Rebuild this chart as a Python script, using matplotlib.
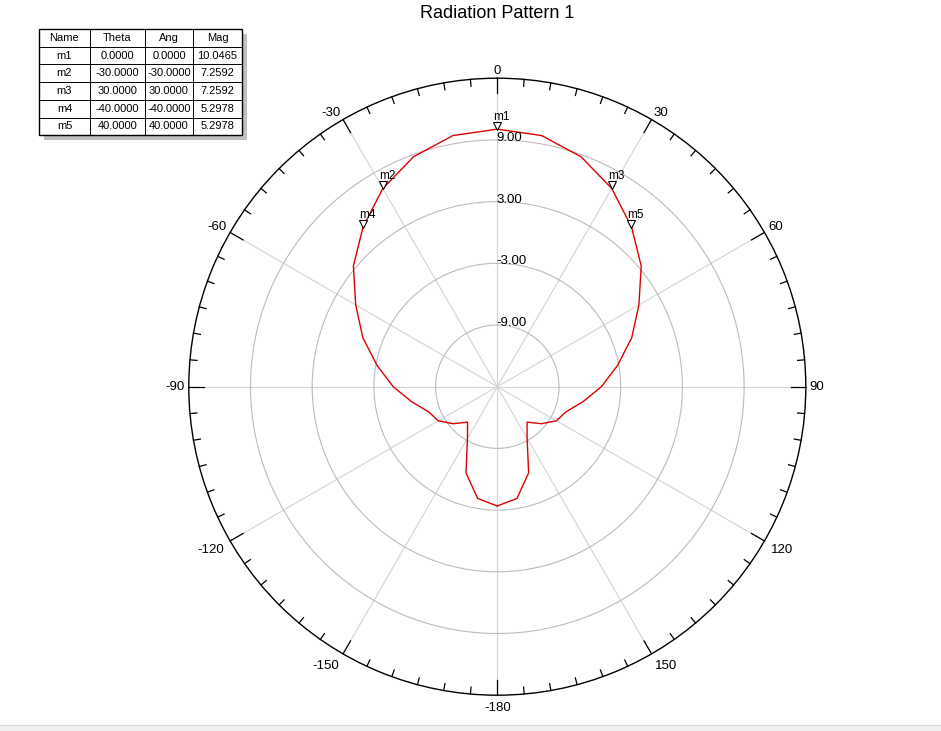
import numpy as np
import matplotlib
matplotlib.use('Agg')
import matplotlib.pyplot as plt
from matplotlib.patches import Rectangle
from matplotlib.transforms import offset_copy

plt.rcParams['font.family'] = ['Liberation Sans', 'DejaVu Sans']

# pattern (deg, dB)
theta_deg = [-180, -170, -160, -150, -140, -130, -120, -110, -100, -90,
             -80, -70, -60, -50, -40, -30, -20, -10, 0,
             10, 20, 30, 40, 50, 60, 70, 80, 90,
             100, 110, 120, 130, 140, 150, 160, 170, 180]
gain_db = [-3.4, -3.97, -6.09, -9.2, -10.5, -9.4, -8.37, -7.88, -6.55, -4.88,
           -3.13, -1.09, 0.9, 3.27, 5.2978, 7.2592, 8.8, 9.8, 10.0465,
           9.8, 8.8, 7.2592, 5.2978, 3.27, 0.9, -1.09, -3.13, -4.88,
           -6.55, -7.88, -8.37, -9.4, -10.5, -9.2, -6.09, -3.97, -3.4]

# markers
mk_names = ['m1', 'm2', 'm3', 'm4', 'm5']
mk_theta = [0.0, -30.0, 30.0, -40.0, 40.0]
mk_ang = [0.0, -30.0, 30.0, -40.0, 40.0]
mk_mag = [10.0465, 7.2592, 7.2592, 5.2978, 5.2978]

r_ticks = [-9, -3, 3, 9]
ang_ticks = list(range(0, 360, 30))
ang_labels = ['0', '30', '60', '90', '120', '150', '-180', '-150', '-120', '-90', '-60', '-30']

W, H = 941, 731
fig = plt.figure(figsize=(W / 100, H / 100), dpi=100)

# pixel-space overlay for table / title
bg = fig.add_axes([0, 0, 1, 1])
bg.set_xlim(0, W)
bg.set_ylim(H, 0)
bg.set_axis_off()

# polar axes: centre (497, 386.5), radius 308.5 px
cx, cy, rad = 497.3, 386.7, 308.5
ax = fig.add_axes([(cx - rad) / W, (H - cy - rad) / H, 2 * rad / W, 2 * rad / H],
                  projection='polar')
ax.set_theta_zero_location('N')
ax.set_theta_direction(-1)
ax.set_ylim(-15, 15)
ax.set_xticks(np.radians(ang_ticks))
ax.set_xticklabels([])
ax.set_yticks(r_ticks)
ax.set_yticklabels([])
ax.xaxis.grid(True, color='#d4d4d4', lw=0.8)
ax.yaxis.grid(True, color='#bcbcbc', lw=0.8)
ax.spines['polar'].set_color('black')
ax.spines['polar'].set_linewidth(1.0)
ax.patch.set_facecolor('white')

# tick marks on the outer ring
px_per_db = rad / 30.0
for a in range(0, 360, 5):
    ln = 15 if a % 30 == 0 else 7
    ax.plot([np.radians(a)] * 2, [15, 15 - ln / px_per_db], color='black', lw=0.9,
            clip_on=False)

# angle labels just outside the ring, aligned away from it
gap = 4
for a, lab in zip(ang_ticks, ang_labels):
    s, c = np.sin(np.radians(a)), np.cos(np.radians(a))
    ha = 'left' if s > 0.01 else ('right' if s < -0.01 else 'center')
    va = 'baseline' if c > 0.01 else ('top' if c < -0.01 else 'center')
    g = gap + 3 if c < -0.01 else gap
    tr = offset_copy(ax.transData, fig=fig, x=g * s, y=g * c, units='dots')
    ax.text(np.radians(a), 15, lab, ha=ha, va=va, fontsize=9.5, transform=tr,
            clip_on=False)

lab_tr = offset_copy(ax.transData, fig=fig, x=-1, y=2, units='dots')
for r in r_ticks:
    ax.text(0, r, f'{r:.2f}', ha='left', va='center', fontsize=9.5, transform=lab_tr)

ax.plot(np.radians(theta_deg), gain_db, color='#dd0000', lw=1.0)

mk_tr = offset_copy(ax.transData, fig=fig, x=0, y=3, units='dots')
txt_tr = offset_copy(ax.transData, fig=fig, x=-4, y=9, units='dots')
for n, t, m in zip(mk_names, mk_theta, mk_mag):
    ax.plot(np.radians(t), m, marker='v', ms=6, mfc='white', mec='black', mew=0.8,
            transform=mk_tr, clip_on=False)
    ax.text(np.radians(t), m, n, ha='left', va='baseline', fontsize=8.5, transform=txt_tr)

# title
bg.text(497, 14, 'Radiation Pattern 1', ha='center', va='center', fontsize=13)

# marker table
col_x = [39, 90, 145, 193, 242]
top, row_h = 29, 17.7
header = ['Name', 'Theta', 'Ang', 'Mag']
rows = [[n, f'{t:.4f}', f'{a:.4f}', f'{m:.4f}']
        for n, t, a, m in zip(mk_names, mk_theta, mk_ang, mk_mag)]
nrow = len(rows) + 1
bottom = top + nrow * row_h
bg.add_patch(Rectangle((col_x[0] + 5, top + 5), col_x[-1] - col_x[0], bottom - top,
                       facecolor='#bfbfbf', edgecolor='none'))
bg.add_patch(Rectangle((col_x[0], top), col_x[-1] - col_x[0], bottom - top,
                       facecolor='white', edgecolor='black', lw=1.0))
for x in col_x[1:-1]:
    bg.plot([x, x], [top, bottom], color='black', lw=0.7)
for i in range(1, nrow):
    y = top + i * row_h
    bg.plot([col_x[0], col_x[-1]], [y, y], color='black', lw=0.7)
for i, row in enumerate([header] + rows):
    y = top + (i + 0.5) * row_h
    for j, s in enumerate(row):
        bg.text((col_x[j] + col_x[j + 1]) / 2, y, s, ha='center', va='center',
                fontsize=8)

# window edge at the bottom
bg.add_patch(Rectangle((0, 725), W, 6, facecolor='#f0f0f0', edgecolor='none'))
bg.plot([0, W], [724.5, 724.5], color='#d8d8d8', lw=0.8)

fig.savefig('out.png', dpi=100)
